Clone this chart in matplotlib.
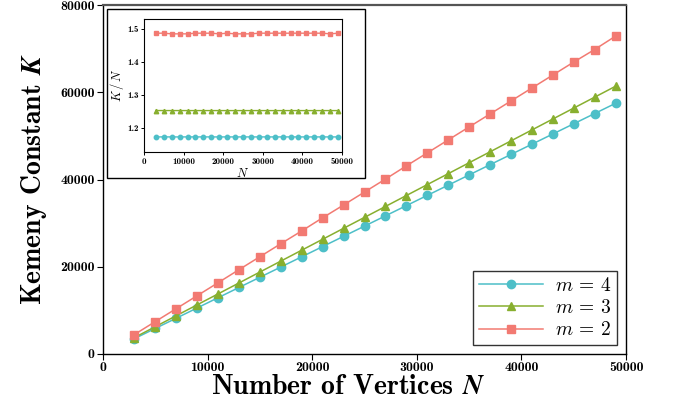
import matplotlib
matplotlib.use("Agg")
import matplotlib.pyplot as plt
from matplotlib.patches import Rectangle
import numpy as np

plt.rcParams['mathtext.fontset'] = 'cm'
plt.rcParams['font.family'] = ['cmb10', 'DejaVu Serif']
plt.rcParams['axes.unicode_minus'] = False

N = [3000, 5000, 7000, 9000, 11000, 13000, 15000, 17000, 19000, 21000, 23000, 25000,
     27000, 29000, 31000, 33000, 35000, 37000, 39000, 41000, 43000, 45000, 47000, 49000]
K_m4 = [3518, 5864, 8209, 10554, 12900, 15245, 17591, 19936, 22281, 24627, 26972, 29318,
        31663, 34008, 36354, 38699, 41045, 43390, 45735, 48081, 50426, 52772, 55117, 57462]
K_m3 = [3758, 6263, 8768, 11273, 13778, 16283, 18788, 21293, 23798, 26303, 28808, 31313,
        33818, 36323, 38828, 41333, 43838, 46343, 48848, 51353, 53858, 56363, 58868, 61373]
K_m2 = [4461, 7435, 10395, 13365, 16335, 19331, 22305, 25279, 28215, 31227, 34155, 37125,
        40095, 43123, 46097, 49071, 52045, 55019, 57993, 60967, 63941, 66915, 69795, 72863]
labels = ['$m$ = 4', '$m$ = 3', '$m$ = 2']
x_ticks = [0, 10000, 20000, 30000, 40000, 50000]
y_ticks = [0, 20000, 40000, 60000, 80000]
inset_yticks = [1.2, 1.3, 1.4, 1.5]

colors = ['#4DBFC8', '#88AF2F', '#F27A72']
markers = ['o', '^', 's']
msizes = [6, 6, 5.2]
series = [K_m4, K_m3, K_m2]

fig = plt.figure(figsize=(6.73, 4.08), dpi=100)
ax = fig.add_axes([103/673, 1-354/408, (626-103)/673, (354-5)/408])

for K, c, mk, ms, lb in zip(series, colors, markers, msizes, labels):
    ax.plot(N, K, color=c, marker=mk, markersize=ms, lw=1.1, label=lb)

ax.set_xlim(0, 50000)
ax.set_ylim(0, 80000)
ax.set_xticks(x_ticks)
ax.set_yticks(y_ticks)
ax.set_xticklabels([str(v) for v in x_ticks])
ax.set_yticklabels([str(v) for v in y_ticks])
ax.tick_params(direction='out', length=4, width=0.8, labelsize=10, pad=2)
for s in ax.spines.values():
    s.set_linewidth(1.0)
ax.spines['top'].set_color('#555555')
ax.spines['top'].set_linewidth(1.6)

ax.set_xlabel('Number of Vertices $\\boldsymbol{N}$', fontsize=20)
ax.xaxis.set_label_coords(0.468, -0.095, transform=ax.transAxes)
ax.xaxis.label.set_va('center')
ax.set_ylabel('Kemeny Constant $\\boldsymbol{K}$', fontsize=20, labelpad=8)

leg = ax.legend(loc='lower right', frameon=True, fancybox=False,
                edgecolor='black', handlelength=3.3, borderpad=0.3,
                labelspacing=0.22, handletextpad=0.6, borderaxespad=0.45,
                prop={'family': 'cmr10', 'size': 14})
leg.get_frame().set_linewidth(1.0)

# inset frame
fig.patches.append(Rectangle((107/673, 1-178/408), (365-107)/673, (178-9)/408,
                             transform=fig.transFigure, fill=True, facecolor='white',
                             edgecolor='black', lw=1.0, zorder=3))

axin = fig.add_axes([144/673, 1-152/408, (342-144)/673, (152-19)/408])
axin.set_zorder(5)
for K, c, mk in zip(series, colors, markers):
    ratio = np.array(K) / np.array(N)
    axin.plot(N, ratio, color=c, marker=mk, markersize=3.2, lw=1.0)
axin.set_xlim(0, 50000)
axin.set_ylim(1.127, 1.53)
axin.set_xticks(x_ticks)
axin.set_xticklabels([str(v) for v in x_ticks])
axin.set_yticks(inset_yticks)
axin.set_yticklabels([str(v) for v in inset_yticks])
axin.tick_params(direction='out', length=2.5, width=0.7, labelsize=6.5, pad=1.5)
axin.set_xlabel('$N$', fontsize=9, labelpad=1)
axin.set_ylabel('$K\\,/\\,N$', fontsize=9, labelpad=1)

fig.savefig('out.png', dpi=100)
